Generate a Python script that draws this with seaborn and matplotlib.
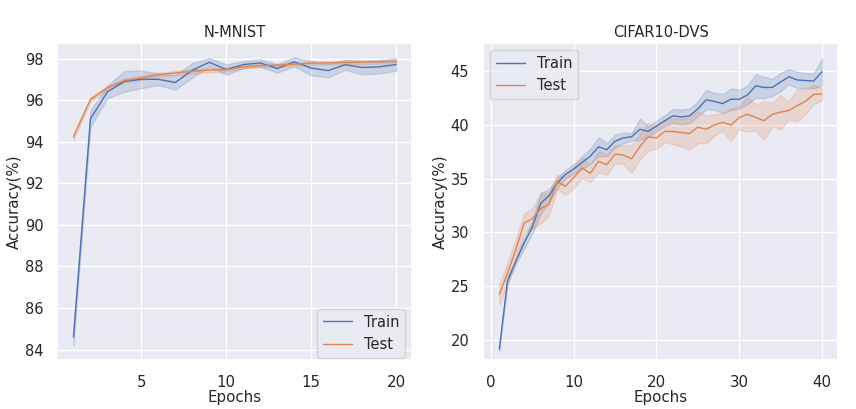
import numpy as np
import pandas as pd
import matplotlib
matplotlib.use("Agg")
import matplotlib.pyplot as plt
import seaborn as sns

# N-MNIST: mean accuracy per epoch and half-width of the shaded band
mnist_epochs = list(range(1, 21))
mnist_train = [84.6, 95.1, 96.4, 96.9, 97.0, 97.0, 96.85, 97.44, 97.82, 97.47,
               97.71, 97.79, 97.52, 97.84, 97.54, 97.42, 97.7, 97.57, 97.6, 97.71]
mnist_train_band = [0.4, 0.4, 0.3, 0.5, 0.42, 0.28, 0.35, 0.35, 0.2, 0.25,
                    0.17, 0.18, 0.2, 0.22, 0.35, 0.32, 0.25, 0.33, 0.32, 0.3]
mnist_test = [94.24, 96.03, 96.59, 96.94, 97.07, 97.22, 97.31, 97.39, 97.44, 97.46,
              97.6, 97.66, 97.68, 97.73, 97.78, 97.79, 97.81, 97.82, 97.84, 97.86]
mnist_test_band = [0.15, 0.1, 0.1, 0.1, 0.1, 0.1, 0.1, 0.1, 0.1, 0.1,
                   0.08, 0.08, 0.08, 0.08, 0.08, 0.08, 0.08, 0.08, 0.08, 0.08]

# CIFAR10-DVS
cifar_epochs = list(range(1, 41))
cifar_train = [19.1, 25.5, 27.3, 29.0, 30.5, 32.7, 33.4, 34.6, 35.4, 35.9,
               36.5, 37.1, 37.97, 37.7, 38.5, 38.8, 38.9, 39.6, 39.4, 39.9,
               40.4, 40.85, 40.75, 40.85, 41.5, 42.35, 42.2, 42.0, 42.4, 42.4,
               42.8, 43.65, 43.5, 43.5, 44.0, 44.5, 44.2, 44.15, 44.1, 44.95]
cifar_train_band = [0.2, 0.3, 0.3, 0.5, 0.6, 1.0, 0.6, 0.5, 0.4, 0.45,
                    0.6, 0.7, 0.9, 0.6, 0.6, 0.5, 0.35, 1.0, 0.5, 0.5,
                    0.5, 0.65, 0.7, 0.7, 0.7, 0.9, 0.8, 0.9, 1.0, 0.9,
                    0.85, 1.1, 1.0, 0.8, 0.85, 0.7, 0.75, 0.7, 0.7, 1.25]
cifar_test = [24.2, 26.2, 28.4, 30.86, 31.27, 32.2, 32.6, 34.7, 34.3, 35.1,
              36.0, 35.5, 36.6, 36.3, 37.3, 37.2, 36.85, 38.0, 38.9, 38.8,
              39.4, 39.4, 39.3, 39.2, 39.8, 39.6, 40.0, 40.25, 40.0, 40.7,
              41.0, 40.7, 40.4, 41.0, 41.2, 41.35, 41.8, 42.2, 42.85, 42.9]
cifar_test_band = [1.0, 1.0, 1.0, 0.9, 0.95, 1.4, 1.0, 0.7, 0.8, 1.0,
                   0.95, 0.8, 1.0, 0.95, 0.85, 0.85, 1.3, 1.2, 1.3, 1.0,
                   1.0, 1.2, 1.3, 1.5, 1.5, 1.3, 1.0, 0.8, 1.5, 1.1,
                   1.6, 1.25, 1.8, 1.1, 1.6, 0.85, 1.5, 1.2, 0.9, 0.6]


def long_frame(epochs, series):
    rows = []
    for name, mean, band in series:
        for e, m, b in zip(epochs, mean, band):
            rows.append((e, m - b, name))
            rows.append((e, m + b, name))
    return pd.DataFrame(rows, columns=["Epochs", "Accuracy(%)", "Set"])


sns.set_theme(style="darkgrid")

fig, axes = plt.subplots(1, 2, figsize=(8.56, 4.09), dpi=100)
fig.subplots_adjust(left=0.067, right=0.979, bottom=0.12, top=0.895, wspace=0.2)

df_mnist = long_frame(mnist_epochs, [("Train", mnist_train, mnist_train_band),
                                     ("Test", mnist_test, mnist_test_band)])
df_cifar = long_frame(cifar_epochs, [("Train", cifar_train, cifar_train_band),
                                     ("Test", cifar_test, cifar_test_band)])

band = lambda v: (v.min(), v.max())

ax = axes[0]
sns.lineplot(data=df_mnist, x="Epochs", y="Accuracy(%)", hue="Set",
             errorbar=band, linewidth=1, ax=ax)
ax.set_title("N-MNIST", fontsize=10.5, pad=4)
ax.set_ylim(83.5, 98.75)
ax.set_xticks([5, 10, 15, 20])
ax.set_yticks([84, 86, 88, 90, 92, 94, 96, 98])
ax.legend(loc="lower right", bbox_to_anchor=(1.0, -0.016), fontsize=10.5)

ax = axes[1]
sns.lineplot(data=df_cifar, x="Epochs", y="Accuracy(%)", hue="Set",
             errorbar=band, linewidth=1, ax=ax)
ax.set_title("CIFAR10-DVS", fontsize=10.5, pad=4)
ax.set_ylim(18.1, 47.65)
ax.set_xticks([0, 10, 20, 30, 40])
ax.legend(loc="upper left", fontsize=10.5)

for ax in axes:
    ax.tick_params(axis="x", labelsize=10.8, pad=5)
    ax.tick_params(axis="y", labelsize=10.5, pad=4)
    ax.set_xlabel("Epochs", fontsize=10.8, labelpad=0)
    ax.set_ylabel("Accuracy(%)", fontsize=10.8, labelpad=2)

fig.savefig("out.png")
